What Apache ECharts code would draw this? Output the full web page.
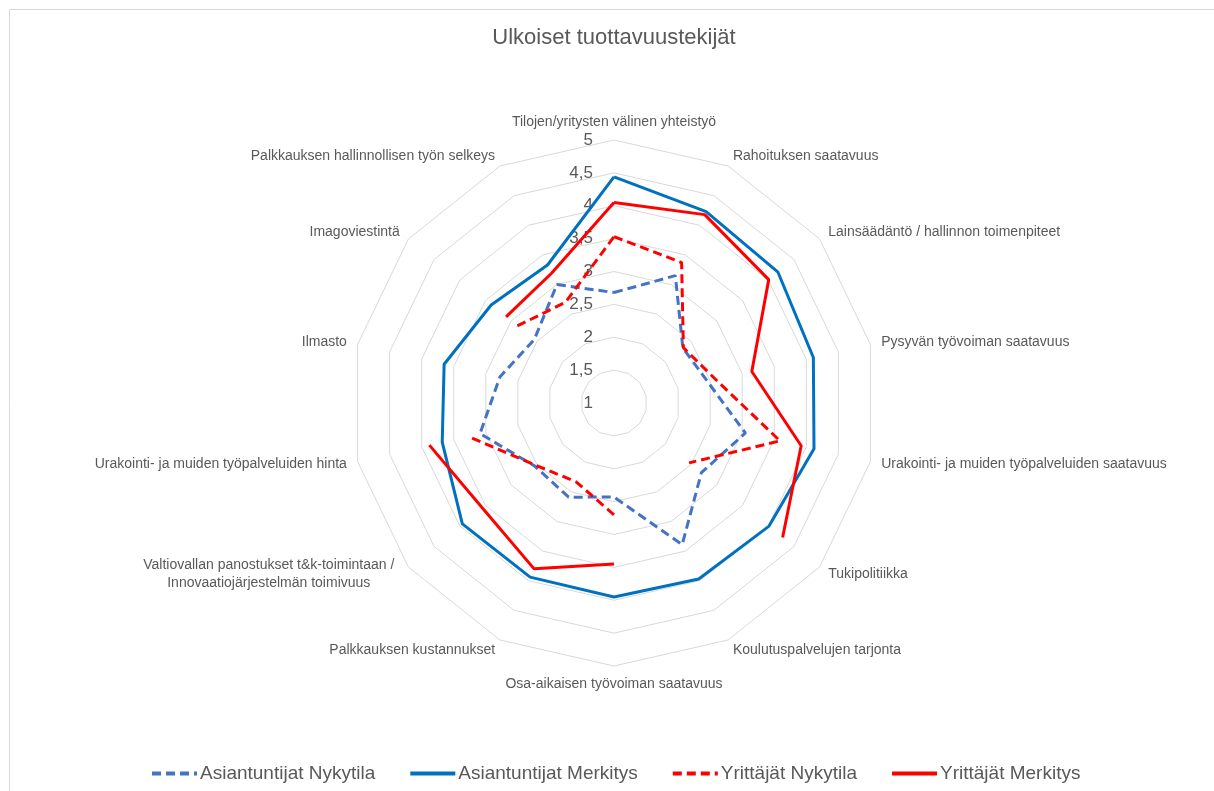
<!DOCTYPE html>
<html>
<head>
<meta charset="utf-8">
<title>Ulkoiset tuottavuustekijät</title>
<script src="https://cdn.jsdelivr.net/npm/echarts@6/dist/echarts.min.js"></script>
<style>
  html, body { margin: 0; padding: 0; background: #fff; }
  #main { width: 1214px; height: 791px; }
</style>
</head>
<body>
<div id="main"></div>
<script>
// akselit myötäpäivään ylhäältä alkaen
var categories = [
  'Tilojen/yritysten välinen yhteistyö',
  'Rahoituksen saatavuus',
  'Lainsäädäntö / hallinnon toimenpiteet',
  'Pysyvän työvoiman saatavuus',
  'Urakointi- ja muiden työpalveluiden saatavuus',
  'Tukipolitiikka',
  'Koulutuspalvelujen tarjonta',
  'Osa-aikaisen työvoiman saatavuus',
  'Palkkauksen kustannukset',
  'Valtiovallan panostukset t&k-toimintaan /\nInnovaatiojärjestelmän toimivuus',
  'Urakointi- ja muiden työpalveluiden hinta',
  'Ilmasto',
  'Imagoviestintä',
  'Palkkauksen hallinnollisen työn selkeys'
];
var asiantuntijatNykytila = [2.68, 3.15, 2.34, 2.46, 3.05, 2.70, 3.39, 2.43, 2.59, 2.54, 3.09, 2.78, 2.55, 3.00];
var asiantuntijatMerkitys = [4.44, 4.23, 4.19, 4.11, 4.12, 4.01, 3.97, 3.95, 3.94, 3.95, 3.68, 3.65, 3.39, 3.33];
var yrittajatNykytila     = [3.53, 3.37, 2.35, 2.59, 3.59, 2.46, null, 2.70, 2.33, 2.52, 3.28, null, 2.88, 2.70];
var yrittajatMerkitys     = [4.05, 4.18, 4.01, 3.15, 3.92, 4.28, null, 3.45, 3.80, 3.56, 3.88, null, 3.10, 3.19];
var scaleMin = 1, scaleMax = 5, step = 0.5;

var textColor = '#595959';
var font = '"Liberation Sans", Arial, sans-serif';
var cx = 614, cy = 403, rad = 263;

// polar-pisteet, tyhjä arvo = katko viivaan, viimeinen piste sulkee kuvion
function toPoints(values) {
  var pts = values.map(function (v, i) { return [v === null ? '-' : v, i]; });
  pts.push([values[0], values.length]);
  return pts;
}

function lineSeries(name, values, color, dashed) {
  return {
    name: name,
    type: 'line',
    coordinateSystem: 'polar',
    data: toPoints(values),
    symbol: 'none',
    connectNulls: false,
    animation: false,
    itemStyle: { color: color },
    lineStyle: { color: color, width: 3, type: dashed ? [9, 5] : 'solid', cap: 'butt' }
  };
}

// radar kulkee vastapäivään -> nimet käänteisessä järjestyksessä
var radarOrder = [0];
for (var k = categories.length - 1; k > 0; k--) radarOrder.push(k);

var chart = echarts.init(document.getElementById('main'));
var option = {
  backgroundColor: '#fff',
  animation: false,
  textStyle: { fontFamily: font },
  title: {
    text: 'Ulkoiset tuottavuustekijät',
    left: 614,
    textAlign: 'center',
    top: 27,
    padding: 0,
    textStyle: { color: textColor, fontSize: 22, fontWeight: 'normal', fontFamily: font }
  },
  graphic: [{
    type: 'polyline',
    silent: true,
    shape: { points: [[9.5, 800], [9.5, 9.5], [1220, 9.5]] },
    style: { stroke: '#D9D9D9', lineWidth: 1, fill: null }
  }],
  legend: {
    left: 150,
    top: 764,
    padding: 0,
    itemWidth: 45,
    itemHeight: 14,
    itemGap: 33,
    itemStyle: { opacity: 0 },
    lineStyle: { width: 4 },
    textStyle: { color: textColor, fontSize: 19, fontFamily: font, padding: [0, 0, 0, -2] },
    data: ['Asiantuntijat Nykytila', 'Asiantuntijat Merkitys', 'Yrittäjät Nykytila', 'Yrittäjät Merkitys']
  },
  radar: {
    center: [cx, cy],
    radius: rad,
    startAngle: 90,
    shape: 'polygon',
    splitNumber: (scaleMax - scaleMin) / step,
    nameGap: 11,
    axisName: {
      color: textColor,
      fontSize: 14,
      fontFamily: font,
      formatter: function (name) {
        if (name.indexOf('\n') < 0) return name;
        return name.split('\n').map(function (s) { return '{c|' + s + '}'; }).join('\n');
      },
      rich: {
        c: { width: 262, align: 'center', color: textColor, fontSize: 14, fontFamily: font, lineHeight: 18 }
      }
    },
    axisLine: { show: false },
    axisTick: { show: false },
    splitArea: { show: false },
    splitLine: { lineStyle: { color: '#D9D9D9', width: 1 } },
    indicator: radarOrder.map(function (i) {
      var ind = { name: categories[i], min: scaleMin, max: scaleMax };
      if (i === 0) {
        ind.axisLabel = {
          show: true,
          color: textColor,
          fontSize: 17,
          fontFamily: font,
          margin: 21,
          formatter: function (v) { return String(v).replace('.', ','); }
        };
      }
      return ind;
    })
  },
  polar: { center: [cx, cy], radius: rad },
  angleAxis: { type: 'value', min: 0, max: categories.length, startAngle: 90, clockwise: true, show: false },
  radiusAxis: { type: 'value', min: scaleMin, max: scaleMax, show: false },
  series: [
    lineSeries('Asiantuntijat Nykytila', asiantuntijatNykytila, '#4472C4', true),
    lineSeries('Asiantuntijat Merkitys', asiantuntijatMerkitys, '#0070C0', false),
    lineSeries('Yrittäjät Nykytila', yrittajatNykytila, '#FF0000', true),
    lineSeries('Yrittäjät Merkitys', yrittajatMerkitys, '#FF0000', false)
  ]
};
chart.setOption(option);
</script>
</body>
</html>
